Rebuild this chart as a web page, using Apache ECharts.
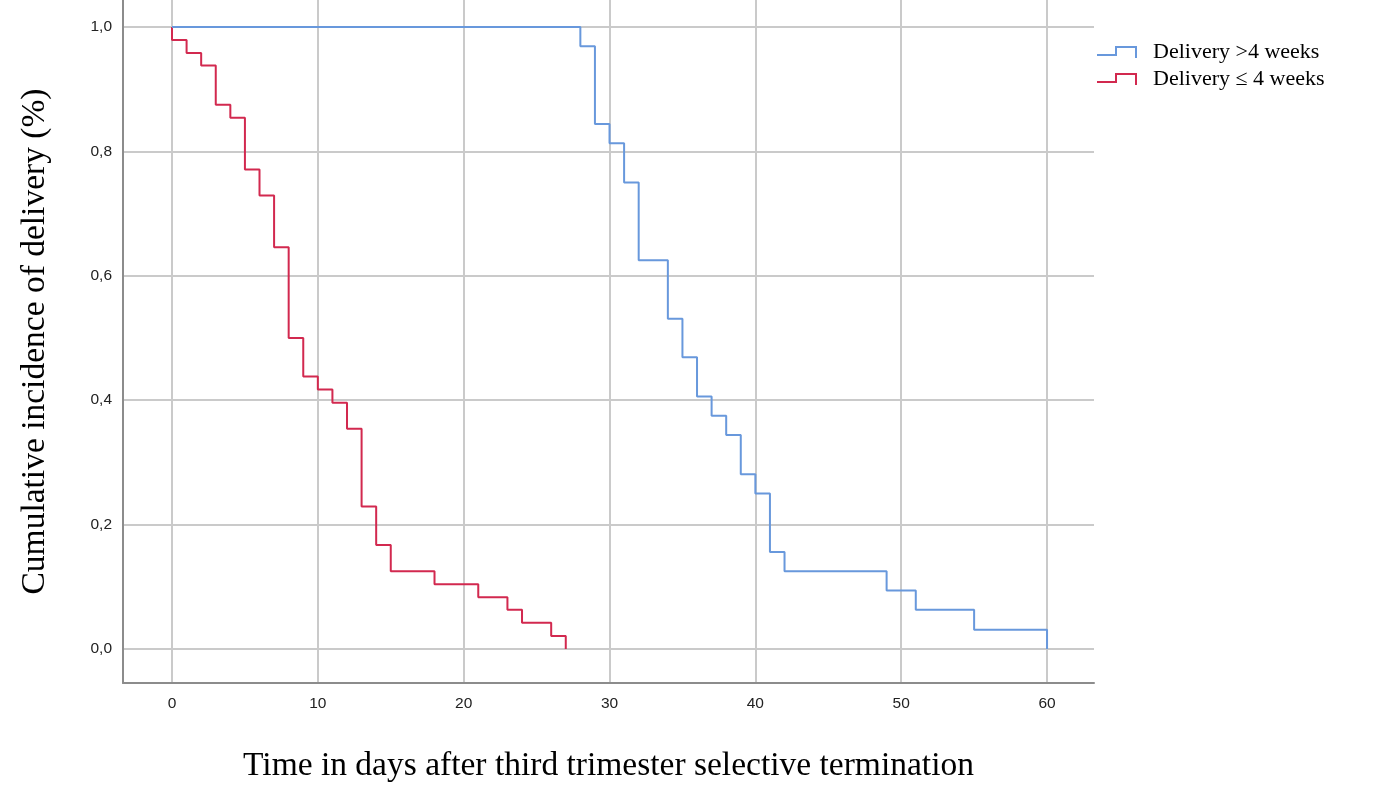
<!DOCTYPE html>
<html>
<head>
<meta charset="utf-8">
<script src="https://cdn.jsdelivr.net/npm/echarts@6/dist/echarts.min.js"></script>
<style>
  html, body { margin: 0; padding: 0; background: #fff; }
  #chart { width: 1393px; height: 804px; }
</style>
</head>
<body>
<div id="chart"></div>
<script>
// days and survival-type values (proportion not yet delivered)
const laterDays = [0, 28, 29, 30, 31, 32, 34, 35, 36, 37, 38, 39, 40, 41, 42, 49, 51, 55, 60]
const laterValues = [1.0, 0.969, 0.844, 0.813, 0.75, 0.625, 0.531, 0.469, 0.406, 0.375, 0.344, 0.281, 0.25, 0.156, 0.125, 0.094, 0.063, 0.031, 0.0]

const earlyDays = [0, 0, 1, 2, 3, 4, 5, 6, 7, 8, 9, 10, 11, 12, 13, 14, 15, 18, 21, 23, 24, 26, 27]
const earlyValues = [1.0, 0.979, 0.958, 0.938, 0.875, 0.854, 0.771, 0.729, 0.646, 0.5, 0.438, 0.417, 0.396, 0.354, 0.229, 0.167, 0.125, 0.104, 0.083, 0.063, 0.042, 0.021, 0.0]

const xTicks = [0, 10, 20, 30, 40, 50, 60]
const yTicks = [0, 0.2, 0.4, 0.6, 0.8, 1.0]

const serif = '"Liberation Serif", "DejaVu Serif", serif'
const sans = '"Liberation Sans", Arial, sans-serif'

function pairs(xs, ys) {
    return xs.map((x, i) => [x, ys[i]])
}

const chart = echarts.init(document.getElementById('chart'))
const stepIcon = 'path://M0,8 L18,8 L18,0 L40,0 L40,12 L38,12 L38,2 L20,2 L20,10 L0,10 Z'

chart.setOption({
    backgroundColor: '#fff',
    animation: false,
    grid: {
        left: 123,
        right: 299,
        top: 0,
        bottom: 121
    },
    legend: {
        orient: 'vertical',
        left: 1092,
        top: 36,
        itemWidth: 40,
        itemHeight: 12,
        itemGap: 5,
        textStyle: {
            fontFamily: serif,
            fontSize: 22,
            color: '#000',
            padding: [0, 0, 0, 11]
        },
        data: [
            { name: 'Delivery >4 weeks', icon: stepIcon },
            { name: 'Delivery ≤ 4 weeks', icon: stepIcon }
        ]
    },
    xAxis: {
        type: 'value',
        min: -3.36,
        max: 63.22,
        name: 'Time in days after third trimester selective termination',
        nameLocation: 'middle',
        nameGap: 66,
        nameTextStyle: { fontFamily: serif, fontSize: 33.5, color: '#000' },
        axisLine: { onZero: false, lineStyle: { color: '#8c8c8c', width: 2 } },
        axisTick: { show: false, customValues: xTicks },
        axisLabel: {
            customValues: xTicks,
            margin: 13,
            fontFamily: sans,
            fontSize: 15.5,
            color: '#222'
        },
        splitLine: { show: true, lineStyle: { color: '#cacaca', width: 2 } }
    },
    yAxis: {
        type: 'value',
        min: -0.0547,
        max: 1.0434,
        name: 'Cumulative incidence of delivery (%)',
        nameLocation: 'middle',
        nameGap: 71,
        nameTextStyle: { fontFamily: serif, fontSize: 33.5, color: '#000' },
        axisLine: { show: true, onZero: false, lineStyle: { color: '#8c8c8c', width: 2 } },
        axisTick: { show: false, customValues: yTicks },
        axisLabel: {
            customValues: yTicks,
            margin: 11,
            fontFamily: sans,
            fontSize: 15.5,
            color: '#222',
            formatter: v => v.toFixed(1).replace('.', ',')
        },
        splitLine: { show: true, lineStyle: { color: '#cacaca', width: 2 } }
    },
    series: [
        {
            name: 'Delivery >4 weeks',
            type: 'line',
            step: 'end',
            showSymbol: false,
            color: '#6898dc',
            lineStyle: { width: 2, color: '#6898dc' },
            data: pairs(laterDays, laterValues),
            z: 3
        },
        {
            name: 'Delivery ≤ 4 weeks',
            type: 'line',
            step: 'end',
            showSymbol: false,
            color: '#d2294f',
            lineStyle: { width: 2, color: '#d2294f' },
            data: pairs(earlyDays, earlyValues),
            z: 2
        }
    ]
})
</script>
</body>
</html>
